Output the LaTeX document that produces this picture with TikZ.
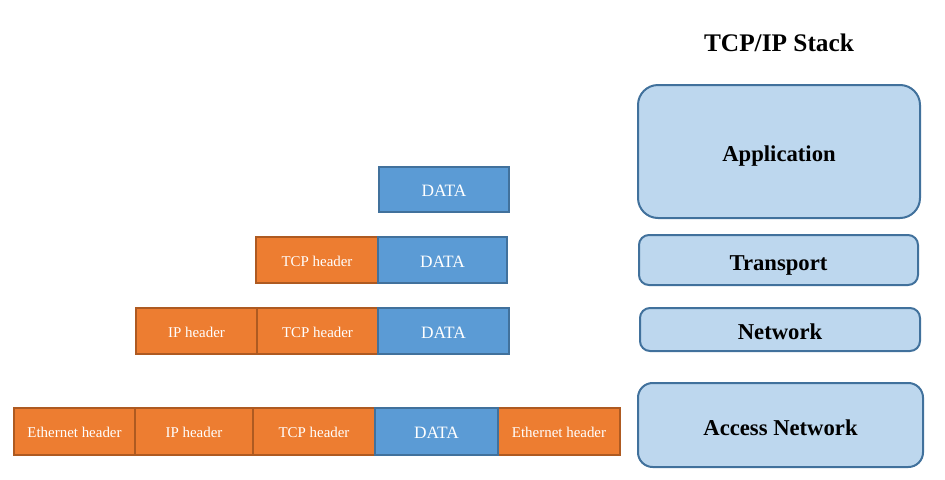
\documentclass[tikz,border=0pt]{standalone}
\usepackage{fontspec}
\setmainfont{Liberation Serif}
\definecolor{orfill}{HTML}{ED7D31}
\definecolor{ordraw}{HTML}{AE5A21}
\definecolor{blfill}{HTML}{5B9BD5}
\definecolor{bldraw}{HTML}{41719C}
\definecolor{ltfill}{HTML}{BDD7EE}
\tikzset{
  cell/.style={rectangle, inner sep=0pt, outer sep=0pt, line width=1.5pt, text=white, text depth=0pt},
  hdr/.style={cell, fill=orfill, draw=ordraw, text height=9.5pt, font=\fontsize{11.2}{13}\selectfont},
  dat/.style={cell, fill=blfill, draw=bldraw, text height=10.6pt, font=\fontsize{13}{15}\selectfont},
  layer/.style={rectangle, inner sep=0pt, outer sep=0pt, line width=1.5pt, fill=ltfill, draw=bldraw, text=black, text height=15pt, text depth=0pt, font=\bfseries\fontsize{17}{20}\selectfont},
  ttl/.style={font=\bfseries\fontsize{19}{22}\selectfont, text=black}
}
\newcommand\pbox[7]{% style, name, x1, x2, y1, y2, text
  \node[#1, minimum width={(#4-#3)*0.75pt}, minimum height={(#6-#5)*0.75pt}] (#2) at ({(#3+#4)/2},{(#5+#6)/2}) {#7};}
\begin{document}
\begin{tikzpicture}[x=0.75pt, y=-0.75pt]
\useasboundingbox (0,0) rectangle (945,479);
% row 1
\pbox{dat}{d1}{379}{509}{167}{212}{DATA}
% row 2
\pbox{hdr}{t2}{256}{378}{237}{283}{TCP header}
\pbox{dat}{d2}{378}{507}{237}{283}{DATA}
% row 3
\pbox{hdr}{i3}{136}{257}{308}{354}{IP header}
\pbox{hdr}{t3}{257}{378}{308}{354}{TCP header}
\pbox{dat}{d3}{378}{509}{308}{354}{DATA}
% row 4
\pbox{hdr}{e4}{14}{135}{408}{455}{Ethernet header}
\pbox{hdr}{i4}{135}{253}{408}{455}{IP header}
\pbox{hdr}{t4}{253}{375}{408}{455}{TCP header}
\pbox{hdr}{f4}{498}{620}{408}{455}{Ethernet header}
\pbox{dat}{d4}{375}{498}{408}{455}{DATA}
% stack
\node[ttl] (title) at (779,43) {TCP/IP Stack};
\pbox{layer, rounded corners=15pt}{app}{638}{920}{85}{218}{Application}
\pbox{layer, rounded corners=7.5pt}{trans}{639}{918}{235}{285}{Transport}
\pbox{layer, rounded corners=7.5pt}{net}{640}{920}{308}{351}{Network}
\pbox{layer, rounded corners=11pt}{acc}{638}{923}{383}{467}{Access Network}
\end{tikzpicture}
\end{document}
